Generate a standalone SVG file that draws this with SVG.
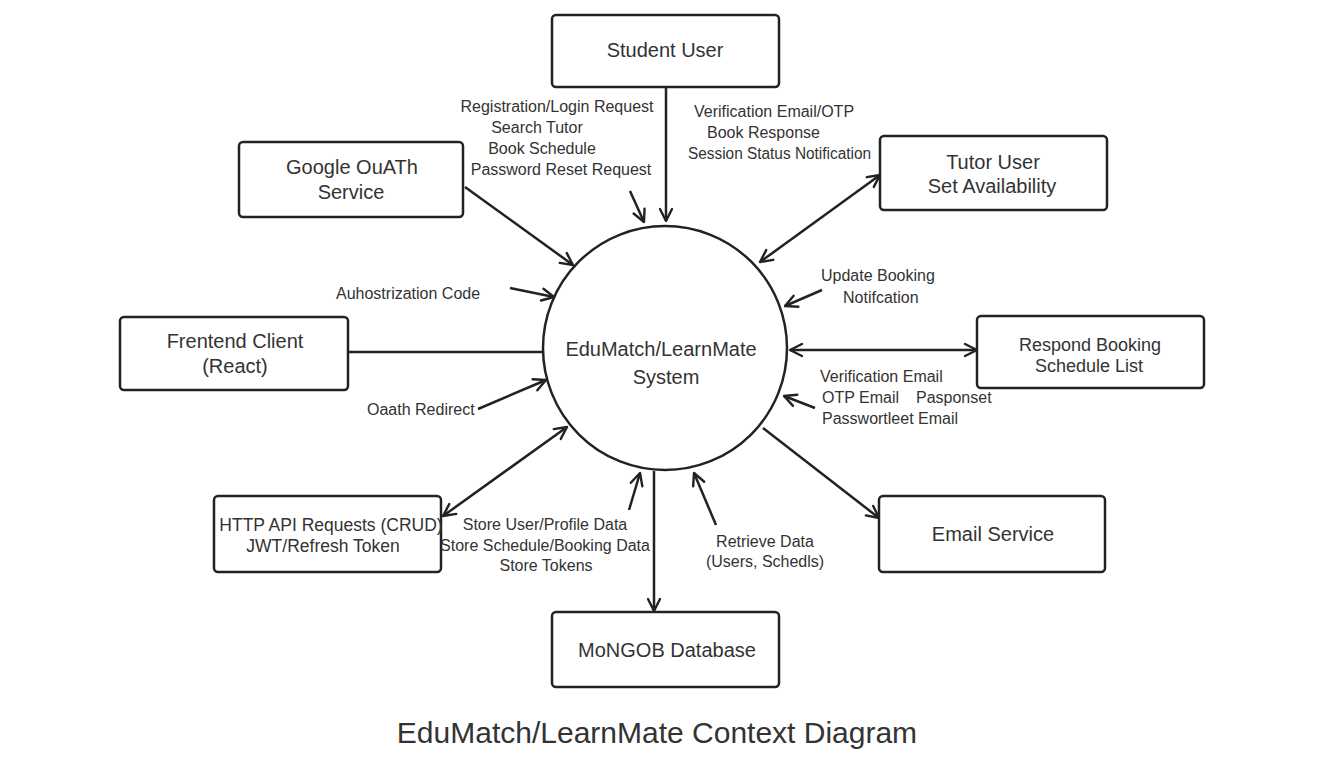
<svg xmlns="http://www.w3.org/2000/svg" width="1344" height="768" viewBox="0 0 1344 768">
<defs>
<marker id="arr" viewBox="0 0 16 16" markerWidth="16" markerHeight="16" refX="14" refY="8" orient="auto-start-reverse" markerUnits="userSpaceOnUse">
<path d="M2,2 L14,8 L2,14" fill="none" stroke="#222" stroke-width="2.4" stroke-linecap="round" stroke-linejoin="round"/>
</marker>
<style>
.box{fill:#fff;stroke:#222;stroke-width:2.5}
.t{font-family:"Liberation Sans",Arial,sans-serif;fill:#333;text-anchor:middle}
.n{font-size:20px}
.l{font-family:"Liberation Sans",Arial,sans-serif;fill:#333;font-size:16px}
.c{text-anchor:middle}
.ln{stroke:#222;stroke-width:2.5;fill:none}
</style>
</defs>
<rect width="1344" height="768" fill="#fff"/>

<g id="connectors">
<line class="ln" x1="666" y1="88" x2="666" y2="221" marker-end="url(#arr)"/>
<line class="ln" x1="630" y1="191" x2="644" y2="222" marker-end="url(#arr)"/>
<line class="ln" x1="465" y1="187" x2="573" y2="265" marker-end="url(#arr)"/>
<line class="ln" x1="510" y1="288" x2="554" y2="297" marker-end="url(#arr)"/>
<line class="ln" x1="348" y1="352" x2="542" y2="352"/>
<line class="ln" x1="478" y1="409" x2="546" y2="380" marker-end="url(#arr)"/>
<line class="ln" x1="443" y1="516" x2="567" y2="427" marker-start="url(#arr)" marker-end="url(#arr)"/>
<line class="ln" x1="629" y1="510" x2="640" y2="473" marker-end="url(#arr)"/>
<line class="ln" x1="654" y1="471" x2="654" y2="611" marker-end="url(#arr)"/>
<line class="ln" x1="716" y1="525" x2="694" y2="473" marker-end="url(#arr)"/>
<line class="ln" x1="763" y1="428" x2="879" y2="518" marker-end="url(#arr)"/>
<line class="ln" x1="790" y1="350" x2="977" y2="350" marker-start="url(#arr)" marker-end="url(#arr)"/>
<line class="ln" x1="815" y1="408" x2="784" y2="396" marker-end="url(#arr)"/>
<line class="ln" x1="822" y1="290" x2="785" y2="306" marker-end="url(#arr)"/>
<line class="ln" x1="880" y1="175" x2="760" y2="262" marker-start="url(#arr)" marker-end="url(#arr)"/>
</g>

<g id="system">
<circle cx="665" cy="348" r="122" fill="none" stroke="#222" stroke-width="2.5"/>
<text class="t n" x="661" y="356">EduMatch/LearnMate</text>
<text class="t n" x="666" y="384">System</text>
</g>

<g id="student-user">
<rect class="box" x="552" y="15" width="227" height="72" rx="4"/>
<text class="t n" x="665" y="57">Student User</text>
</g>

<g id="google-oauth">
<rect class="box" x="239" y="142" width="224" height="75" rx="4"/>
<text class="t n" x="352" y="174">Google OuATh</text>
<text class="t n" x="351" y="199">Service</text>
</g>

<g id="tutor-user">
<rect class="box" x="880" y="136" width="227" height="74" rx="4"/>
<text class="t n" x="993" y="169">Tutor User</text>
<text class="t n" x="992" y="193">Set Availability</text>
</g>

<g id="frontend-client">
<rect class="box" x="120" y="317" width="228" height="73" rx="4"/>
<text class="t n" x="235" y="348">Frentend Client</text>
<text class="t n" x="235" y="373">(React)</text>
</g>

<g id="respond-booking">
<rect class="box" x="977" y="316" width="227" height="72" rx="4"/>
<text class="t" style="font-size:18px" x="1090" y="351">Respond Booking</text>
<text class="t" style="font-size:18px" x="1089" y="372">Schedule List</text>
</g>

<g id="http-api">
<rect class="box" x="214" y="496" width="227" height="76" rx="4"/>
<text class="t" style="font-size:17.5px" x="331" y="531">HTTP API Requests (CRUD)</text>
<text class="t" style="font-size:17.5px" x="323" y="552">JWT/Refresh Token</text>
</g>

<g id="email-service">
<rect class="box" x="879" y="496" width="226" height="76" rx="4"/>
<text class="t n" x="993" y="541">Email Service</text>
</g>

<g id="mongodb">
<rect class="box" x="552" y="612" width="227" height="75" rx="4"/>
<text class="t n" x="667" y="657">MoNGOB Database</text>
</g>

<g id="labels">
<text class="l c" x="557" y="112">Registration/Login Request</text>
<text class="l c" x="537" y="133">Search Tutor</text>
<text class="l c" x="542" y="154">Book Schedule</text>
<text class="l c" x="561" y="175">Password Reset Request</text>
<text class="l" x="694" y="117">Verification Email/OTP</text>
<text class="l" x="707" y="138">Book Response</text>
<text class="l" x="688" y="159" textLength="183" lengthAdjust="spacingAndGlyphs">Session Status Notification</text>
<text class="l" x="336" y="299">Auhostrization Code</text>
<text class="l" x="367" y="415">Oaath Redirect</text>
<text class="l" x="821" y="281">Update Booking</text>
<text class="l" x="843" y="303">Notifcation</text>
<text class="l" x="820" y="382">Verification Email</text>
<text class="l" x="822" y="403">OTP Email</text>
<text class="l" x="916" y="403">Pasponset</text>
<text class="l" x="822" y="424">Passwortleet Email</text>
<text class="l c" x="545" y="530">Store User/Profile Data</text>
<text class="l c" x="545" y="551">Store Schedule/Booking Data</text>
<text class="l c" x="546" y="571">Store Tokens</text>
<text class="l c" x="765" y="547">Retrieve Data</text>
<text class="l c" x="765" y="567">(Users, Schedls)</text>
</g>

<text class="t" style="font-size:30px" x="657" y="743">EduMatch/LearnMate Context Diagram</text>
</svg>
